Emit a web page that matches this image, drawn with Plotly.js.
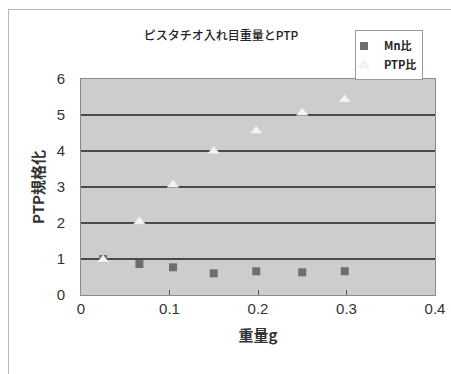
<!DOCTYPE html>
<html>
<head>
<meta charset="utf-8">
<script src="https://cdn.plot.ly/plotly-3.0.1.min.js"></script>
<style>
  html, body { margin: 0; padding: 0; background: #fff; }
  #wrap { position: relative; width: 451px; height: 374px; }
  #chart { width: 451px; height: 374px; }
  #frame { position: absolute; left: 8px; top: 9px; right: 0; bottom: 0;
           border-left: 1px solid #b8b8b8; border-top: 1px solid #b8b8b8;
           pointer-events: none; }
</style>
</head>
<body>
<div id="wrap">
  <div id="chart"></div>
  <div id="frame"></div>
</div>
<script>
// 入れ目重量 (g)
const weightG = [0.025, 0.066, 0.104, 0.150, 0.198, 0.250, 0.298];
// Mn比 (規格化)
const mnRatio = [1.00, 0.86, 0.77, 0.60, 0.66, 0.63, 0.66];
// PTP比 (規格化)
const ptpRatio = [0.97, 2.04, 3.06, 4.00, 4.56, 5.06, 5.43];

const jp = '"Noto Sans CJK JP", "Noto Sans", sans-serif';
const num = '"Liberation Sans", Arial, sans-serif';

const traces = [
  {
    x: weightG, y: mnRatio, name: 'Mn比', type: 'scatter', mode: 'markers',
    marker: { symbol: 'square', size: 8, color: '#6e6e70', line: { width: 0 } }
  },
  {
    x: weightG, y: ptpRatio, name: 'PTP比', type: 'scatter', mode: 'markers',
    marker: { symbol: 'triangle-up', size: 10, color: '#f4f4f4',
              line: { width: 0.5, color: '#e0e0e0' } }
  }
];

const layout = {
  width: 451, height: 374,
  margin: { l: 81, r: 16, t: 79, b: 79 },
  paper_bgcolor: '#ffffff',
  plot_bgcolor: '#cdcdcf',
  showlegend: true,
  title: {
    text: 'ピスタチオ入れ目重量とPTP',
    font: { family: jp, size: 12, color: '#222', weight: 500 },
    x: 0.49, xanchor: 'center', y: 0.905, yanchor: 'middle'
  },
  legend: {
    x: 0.774, xanchor: 'left', y: 1.225, yanchor: 'top',
    bgcolor: '#ffffff', bordercolor: '#9a9a9a', borderwidth: 1,
    font: { family: jp, size: 11, color: '#222', weight: 'bold' },
    itemwidth: 30, tracegroupgap: 0, indentation: -12
  },
  xaxis: {
    range: [0, 0.4], dtick: 0.1, tick0: 0,
    showgrid: false, zeroline: false,
    showline: true, linecolor: '#8a8a8a', linewidth: 1, mirror: true,
    ticks: 'inside', ticklen: 5, tickcolor: '#555',
    tickfont: { family: num, size: 15, color: '#333' },
    title: { text: '重量g', font: { family: jp, size: 15, color: '#333', weight: 'bold' }, standoff: 14 }
  },
  yaxis: {
    range: [0, 6], dtick: 1, tick0: 0,
    showgrid: true, gridcolor: '#4a4a4a', gridwidth: 1.3,
    zeroline: false,
    showline: true, linecolor: '#8a8a8a', linewidth: 1, mirror: true,
    ticks: '', ticklabelstandoff: 12,
    tickfont: { family: num, size: 15, color: '#333' },
    title: { text: 'PTP規格化', font: { family: jp, size: 15, color: '#333', weight: 'bold' }, standoff: 8 }
  }
};

Plotly.newPlot('chart', traces, layout, { displayModeBar: false, staticPlot: true });
</script>
</body>
</html>
